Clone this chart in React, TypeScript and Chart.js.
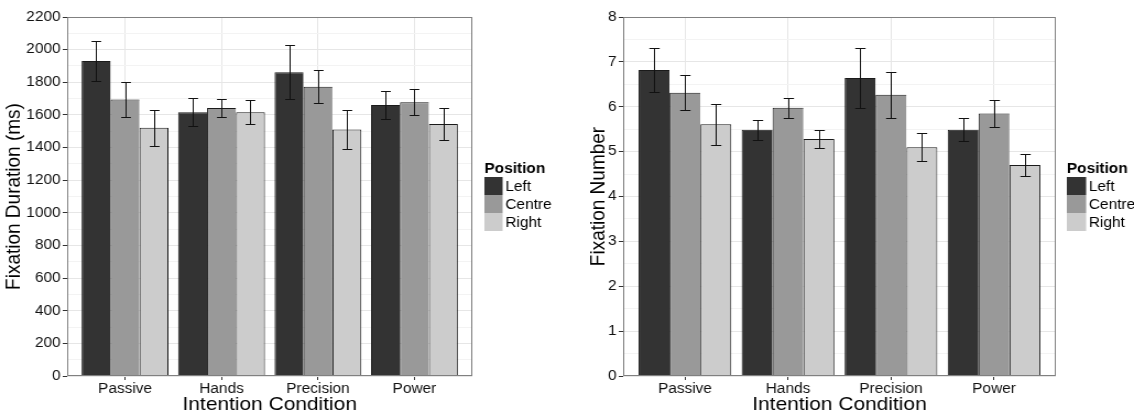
import React, { useEffect, useRef } from 'react';
import { Chart, registerables } from 'chart.js';

Chart.register(...registerables);

// ---------- data ----------
const categories = ['Passive', 'Hands', 'Precision', 'Power'];
const positions = ['Left', 'Centre', 'Right'];
const positionColors = ['#333333', '#999999', '#cccccc'];

const durationLeft = [1930, 1617, 1862, 1661];
const durationCentre = [1695, 1642, 1773, 1678];
const durationRight = [1521, 1617, 1511, 1544];
const durationErrLeft = [121, 88, 167, 88];
const durationErrCentre = [107, 57, 102, 80];
const durationErrRight = [111, 73, 117, 97];

const numberLeft = [6.82, 5.49, 6.64, 5.49];
const numberCentre = [6.31, 5.98, 6.27, 5.85];
const numberRight = [5.61, 5.28, 5.10, 4.70];
const numberErrLeft = [0.50, 0.22, 0.67, 0.26];
const numberErrCentre = [0.39, 0.22, 0.51, 0.30];
const numberErrRight = [0.46, 0.21, 0.32, 0.24];

const durationAxisMax = 2200;
const durationMinorStep = 100;
const durationMajorStep = 200;
const numberAxisMax = 8;
const numberMinorStep = 0.5;
const numberMajorStep = 1;

// ---------- layout ----------
const FONT = '"Liberation Sans", Arial, Helvetica, sans-serif';
const CANVAS_W = 515;
const CANVAS_H = 414;
const PANEL_W = 567;
const STRETCH = PANEL_W / CANVAS_W;

type Spec = {
  yTitle: string;
  max: number;
  minorStep: number;
  majorStep: number;
  series: number[][];
  errors: number[][];
  yWidth: number;
  yTitlePad: number;
  padRight: number;
  legendOffset: number;
  swatchW: number;
};

function isMajor(v: number, major: number) {
  const r = v / major;
  return Math.abs(r - Math.round(r)) < 1e-6;
}

function makePlugin(spec: Spec) {
  return {
    id: 'ggExtras',
    afterDatasetsDraw(chart: any) {
      const ctx = chart.ctx;
      const ys = chart.scales.y;
      const xs = chart.scales.x;
      const half = Math.abs(xs.getPixelForValue(1.05) - xs.getPixelForValue(1));
      ctx.save();
      ctx.strokeStyle = '#111111';
      ctx.lineWidth = 1;
      chart.data.datasets.forEach((ds: any, di: number) => {
        const meta = chart.getDatasetMeta(di);
        meta.data.forEach((bar: any, i: number) => {
          const v = ds.data[i].y;
          const e = spec.errors[di][i];
          const cx = Math.round(bar.x) + 0.5;
          const yTop = Math.round(ys.getPixelForValue(v + e)) + 0.5;
          const yBot = Math.round(ys.getPixelForValue(v - e)) + 0.5;
          ctx.beginPath();
          ctx.moveTo(cx, yTop);
          ctx.lineTo(cx, yBot);
          ctx.moveTo(cx - half, yTop);
          ctx.lineTo(cx + half, yTop);
          ctx.moveTo(cx - half, yBot);
          ctx.lineTo(cx + half, yBot);
          ctx.stroke();
        });
      });
      const a = chart.chartArea;
      const l = Math.round(a.left);
      const t = Math.round(a.top);
      const r = Math.round(a.right);
      const b = Math.round(a.bottom);
      ctx.strokeStyle = '#808080';
      ctx.strokeRect(l + 0.5, t + 0.5, r - l - 1, b - t - 1);
      ctx.restore();
    },
    afterDraw(chart: any) {
      const ctx = chart.ctx;
      const a = chart.chartArea;
      const lx = a.right + spec.legendOffset;
      ctx.save();
      ctx.textAlign = 'left';
      ctx.fillStyle = '#000000';
      ctx.font = `bold 14px ${FONT}`;
      ctx.textBaseline = 'alphabetic';
      ctx.fillText('Position', lx, 173);
      positions.forEach((p, i) => {
        const top = 177 + i * 18;
        ctx.fillStyle = positionColors[i];
        ctx.fillRect(lx, top, spec.swatchW, 18);
        ctx.fillStyle = '#000000';
        ctx.font = `14px ${FONT}`;
        ctx.textBaseline = 'middle';
        ctx.fillText(p, lx + spec.swatchW + 2.5, top + 10);
      });
      ctx.restore();
    },
  };
}

function buildChart(canvas: HTMLCanvasElement, spec: Spec) {
  const datasets = positions.map((p, i) => ({
    label: p,
    data: categories.map((_, j) => ({ x: j + 1, y: spec.series[i][j] })),
    backgroundColor: positionColors[i],
    borderColor: '#1a1a1a',
    borderWidth: i === positions.length - 1
      ? { top: 1, left: 1, right: 1, bottom: 0 }
      : { top: 1, left: 1, right: 0, bottom: 0 },
    borderSkipped: false,
    inflateAmount: 0,
    categoryPercentage: 0.9,
    barPercentage: 1,
  }));

  return new Chart(canvas, {
    type: 'bar',
    data: { datasets } as any,
    options: {
      responsive: false,
      animation: false,
      devicePixelRatio: 1,
      layout: { padding: { top: 17, right: spec.padRight, bottom: 0, left: 0 } },
      plugins: { legend: { display: false }, tooltip: { enabled: false } },
      scales: {
        x: {
          type: 'linear',
          min: 0.4,
          max: 4.6,
          bounds: 'data',
          offset: false,
          afterBuildTicks: (s: any) => {
            s.ticks = categories.map((_, i) => ({ value: i + 1 }));
          },
          afterFit: (s: any) => {
            s.height = 38;
          },
          ticks: {
            autoSkip: false,
            maxRotation: 0,
            padding: 1,
            color: '#111111',
            font: { family: FONT, size: 14 },
            callback: (v: any) => categories[Math.round(Number(v)) - 1] ?? '',
          },
          grid: {
            offset: false,
            color: '#e6e6e6',
            lineWidth: 1,
            tickLength: 4,
            tickColor: '#333333',
          },
          border: { display: false },
          title: {
            display: true,
            text: 'Intention Condition',
            color: '#000000',
            font: { family: FONT, size: 19, lineHeight: 1 },
            padding: { top: 0, bottom: 0 },
          },
        } as any,
        y: {
          type: 'linear',
          min: 0,
          max: spec.max,
          afterFit: (s: any) => {
            s.width = spec.yWidth;
          },
          ticks: {
            stepSize: spec.minorStep,
            autoSkip: false,
            padding: 2,
            color: '#111111',
            font: { family: FONT, size: 14 },
            callback: (v: any) => (isMajor(Number(v), spec.majorStep) ? String(v) : ''),
          },
          grid: {
            color: (c: any) => (c.tick && isMajor(c.tick.value, spec.majorStep) ? '#e6e6e6' : '#f3f3f3'),
            tickColor: (c: any) => (c.tick && isMajor(c.tick.value, spec.majorStep) ? '#333333' : 'rgba(0,0,0,0)'),
            lineWidth: 1,
            tickLength: 4,
          },
          border: { display: false },
          title: {
            display: true,
            text: spec.yTitle,
            color: '#000000',
            font: { family: FONT, size: 19, lineHeight: 1 },
            padding: { top: spec.yTitlePad, bottom: 0 },
          },
        } as any,
      },
    },
    plugins: [makePlugin(spec)],
  });
}

const durationSpec: Spec = {
  yTitle: 'Fixation Duration (ms)',
  max: durationAxisMax,
  minorStep: durationMinorStep,
  majorStep: durationMajorStep,
  series: [durationLeft, durationCentre, durationRight],
  errors: [durationErrLeft, durationErrCentre, durationErrRight],
  yWidth: 61,
  yTitlePad: 3,
  padRight: 86,
  legendOffset: 11,
  swatchW: 16.5,
};

const numberSpec: Spec = {
  yTitle: 'Fixation Number',
  max: numberAxisMax,
  minorStep: numberMinorStep,
  majorStep: numberMajorStep,
  series: [numberLeft, numberCentre, numberRight],
  errors: [numberErrLeft, numberErrCentre, numberErrRight],
  yWidth: 51,
  yTitlePad: 19,
  padRight: 71,
  legendOffset: 10,
  swatchW: 17.5,
};

export default function App() {
  const leftRef = useRef<HTMLCanvasElement | null>(null);
  const rightRef = useRef<HTMLCanvasElement | null>(null);

  useEffect(() => {
    const charts: Chart[] = [];
    if (leftRef.current) charts.push(buildChart(leftRef.current, durationSpec));
    if (rightRef.current) charts.push(buildChart(rightRef.current, numberSpec));
    return () => charts.forEach((c) => c.destroy());
  }, []);

  const wrap = (left: number): React.CSSProperties => ({
    position: 'absolute',
    left,
    top: 0,
    width: CANVAS_W,
    height: CANVAS_H,
    transform: `scaleX(${STRETCH})`,
    transformOrigin: '0 0',
  });

  return (
    <div style={{ position: 'absolute', left: 0, top: 0, width: 1134, height: 414, background: '#ffffff', overflow: 'hidden' }}>
      <div style={wrap(0)}>
        <canvas ref={leftRef} width={CANVAS_W} height={CANVAS_H} style={{ display: 'block', width: CANVAS_W, height: CANVAS_H }} />
      </div>
      <div style={wrap(PANEL_W)}>
        <canvas ref={rightRef} width={CANVAS_W} height={CANVAS_H} style={{ display: 'block', width: CANVAS_W, height: CANVAS_H }} />
      </div>
    </div>
  );
}
